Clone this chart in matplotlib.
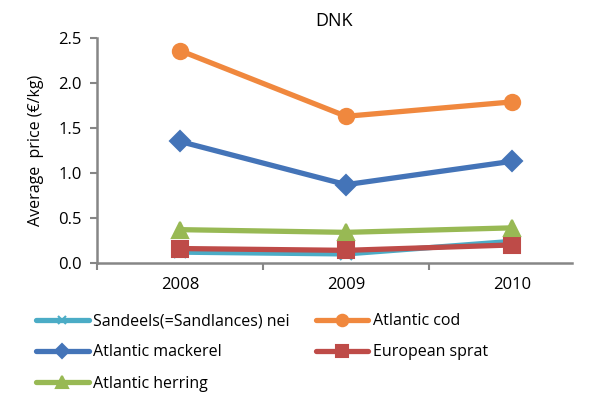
import numpy as np
from matplotlib import pyplot as plt

years = ['2008', '2009', '2010']
sandeels = [0.12, 0.10, 0.24]
cod = [2.36, 1.63, 1.79]
mackerel = [1.35, 0.87, 1.13]
sprat = [0.16, 0.14, 0.20]
herring = [0.37, 0.34, 0.39]

plt.rcParams['font.family'] = ['Open Sans', 'DejaVu Sans']

fig = plt.figure(figsize=(5.92, 3.96), dpi=100)
ax = fig.add_axes([0.164, 0.336, 0.802, 0.568])

x = np.arange(len(years))
series = [
    ('Sandeels(=Sandlances) nei', sandeels, '#4BACC6', 'x', 8),
    ('Atlantic cod', cod, '#F0883E', 'o', 11),
    ('Atlantic mackerel', mackerel, '#4474B8', 'D', 10),
    ('European sprat', sprat, '#BE4B48', 's', 11),
    ('Atlantic herring', herring, '#98B954', '^', 12),
]
handles = {}
for name, vals, col, mk, ms in series:
    h, = ax.plot(x, vals, color=col, lw=3.8, marker=mk, ms=ms, mec=col, mew=1.5,
                 label=name, solid_capstyle='round')
    handles[name] = h

ax.set_xlim(-0.5, 2.36)
ax.set_ylim(0, 2.5)
ax.set_yticks(np.arange(0, 2.51, 0.5))
ax.set_yticklabels(['%.1f' % v for v in np.arange(0, 2.51, 0.5)])
ax.set_xticks(x)
ax.set_xticklabels(years)
ax.set_xticks([-0.5, 0.5, 1.5], minor=True)
ax.tick_params(axis='x', which='major', length=0, pad=10, labelsize=12)
ax.tick_params(axis='x', which='minor', length=5, color='#868686', width=1.5)
ax.tick_params(axis='y', length=5, color='#868686', width=1.5, labelsize=12, pad=6)
for s in ['top', 'right']:
    ax.spines[s].set_visible(False)
for s in ['left', 'bottom']:
    ax.spines[s].set_color('#868686')
    ax.spines[s].set_linewidth(1.8)
ax.set_ylabel('Average  price (€/kg)', fontsize=11.5, labelpad=10)
ax.set_title('DNK', fontsize=13, pad=9)

order = ['Sandeels(=Sandlances) nei', 'Atlantic mackerel', 'Atlantic herring',
         'Atlantic cod', 'European sprat']
fig.legend([handles[n] for n in order], order, ncol=2, loc='upper left',
           bbox_to_anchor=(0.05, 0.225), frameon=False, fontsize=11.5,
           handlelength=3.3, columnspacing=1.6, labelspacing=0.95,
           handletextpad=0.3, markerscale=0.75, borderaxespad=0)

fig.savefig('out.png', dpi=100)
